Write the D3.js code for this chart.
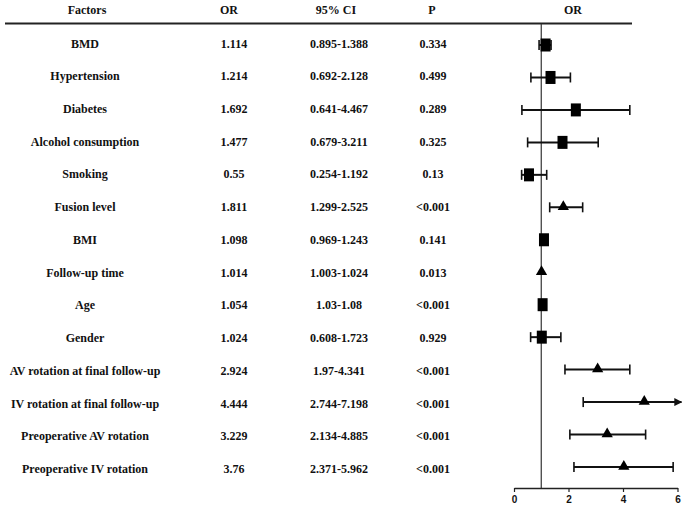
<!DOCTYPE html>
<html>
<head>
<meta charset="utf-8">
<script src="https://cdn.jsdelivr.net/npm/d3@7"></script>
<style>
  body { margin: 0; background: #fff; }
  svg text { font-family: "Liberation Serif", "Times New Roman", serif; font-weight: bold; fill: #111; }
  .tick-label { font-family: "Liberation Sans Narrow", "Liberation Sans", sans-serif; }
</style>
</head>
<body>
<div id="chart"></div>
<script>
// table columns
const factors = [
  "BMD", "Hypertension", "Diabetes", "Alcohol consumption", "Smoking",
  "Fusion level", "BMI", "Follow-up time", "Age", "Gender",
  "AV rotation at final follow-up", "IV rotation at final follow-up",
  "Preoperative AV rotation", "Preoperative IV rotation"
];
const orText = ["1.114", "1.214", "1.692", "1.477", "0.55", "1.811", "1.098",
  "1.014", "1.054", "1.024", "2.924", "4.444", "3.229", "3.76"];
const ciText = ["0.895-1.388", "0.692-2.128", "0.641-4.467", "0.679-3.211",
  "0.254-1.192", "1.299-2.525", "0.969-1.243", "1.003-1.024", "1.03-1.08",
  "0.608-1.723", "1.97-4.341", "2.744-7.198", "2.134-4.885", "2.371-5.962"];
const pText = ["0.334", "0.499", "0.289", "0.325", "0.13", "<0.001", "0.141",
  "0.013", "<0.001", "0.929", "<0.001", "<0.001", "<0.001", "<0.001"];

// what the forest plot actually shows
const plotOR = [1.16, 1.34, 2.27, 1.78, 0.55, 1.81, 1.10, 1.01, 1.05, 1.02, 3.07, 4.78, 3.42, 4.03];
const plotLow = [0.92, 0.62, 0.29, 0.50, 0.28, 1.31, 1.05, 1.0, 1.03, 0.61, 1.87, 2.54, 2.05, 2.20];
const plotHigh = [1.36, 2.07, 4.25, 3.09, 1.20, 2.52, 1.15, 1.02, 1.08, 1.72, 4.25, 7.198, 4.83, 5.84];
const markerShape = ["square", "square", "square", "square", "square", "triangle", "square",
  "triangle", "square", "square", "triangle", "triangle", "triangle", "triangle"];
const showCI = [true, true, true, true, true, true, false, false, false, true, true, true, true, true];

const headers = ["Factors", "OR", "95% CI", "P", "OR"];
const xTicks = [0, 2, 4, 6];

const w = 685, h = 511;

const svg = d3.select("#chart").append("svg")
  .attr("width", w)
  .attr("height", h);

const y = d3.scalePoint().domain(factors).range([45, 467]);
const yText = y.copy().range([47.5, 473]);
const x = d3.scaleLinear().domain([0, 6]).range([514, 677.5]);

const colX = [85, 234, 339, 433];
const headX = [87, 229, 336, 432, 573];

// headers
svg.selectAll(".head")
  .data(headers)
  .enter()
  .append("text")
  .attr("class", "head")
  .attr("x", (d, i) => headX[i])
  .attr("y", 14)
  .attr("text-anchor", "middle")
  .attr("font-size", 12)
  .text((d) => d);

svg.append("line")
  .attr("x1", 5).attr("x2", 632)
  .attr("y1", 23.5).attr("y2", 23.5)
  .attr("stroke", "#222")
  .attr("stroke-width", 2);

// table body
const columns = [factors, orText, ciText, pText];
columns.forEach((col, c) => {
  svg.append("g")
    .selectAll("text")
    .data(col)
    .enter()
    .append("text")
    .attr("x", colX[c])
    .attr("y", (d, i) => yText(factors[i]))
    .attr("text-anchor", "middle")
    .attr("font-size", 12)
    .text((d) => d);
});

// reference line at OR = 1
svg.append("line")
  .attr("x1", x(1)).attr("x2", x(1))
  .attr("y1", 24).attr("y2", 488)
  .attr("stroke", "#333")
  .attr("stroke-width", 1.2);

// x axis
const axis = svg.append("g")
  .attr("transform", "translate(0,488)")
  .call(d3.axisBottom(x).tickValues(xTicks).tickFormat(d3.format("d")).tickSize(4).tickSizeOuter(0));
axis.select(".domain").attr("stroke", "#222").attr("stroke-width", 1.5);
axis.selectAll(".tick line").attr("stroke", "#222").attr("stroke-width", 1.2);
axis.selectAll(".tick text")
  .attr("class", "tick-label")
  .attr("font-size", 10)
  .attr("fill", "#111")
  .attr("y", 8);

// arrow marker for clipped intervals
svg.append("defs").append("marker")
  .attr("id", "arrow")
  .attr("viewBox", "0 0 10 10")
  .attr("refX", 9).attr("refY", 5)
  .attr("markerWidth", 4).attr("markerHeight", 4)
  .attr("orient", "auto")
  .append("path")
  .attr("d", "M0,0L10,5L0,10Z")
  .attr("fill", "#111");

const xMax = x.domain()[1];
const rows = factors.map((f, i) => ({
  f, or: plotOR[i], lo: plotLow[i], hi: plotHigh[i],
  shape: markerShape[i], ci: showCI[i], clipped: plotHigh[i] > xMax
}));

const g = svg.append("g");

const ciRows = rows.filter((d) => d.ci);
g.selectAll(".ci")
  .data(ciRows)
  .enter()
  .append("line")
  .attr("x1", (d) => x(d.lo))
  .attr("x2", (d) => d.clipped ? x(xMax) + 4 : x(d.hi))
  .attr("y1", (d) => y(d.f))
  .attr("y2", (d) => y(d.f))
  .attr("stroke", "#111")
  .attr("stroke-width", 2)
  .attr("marker-end", (d) => d.clipped ? "url(#arrow)" : null);

// caps
g.selectAll(".capL")
  .data(ciRows)
  .enter()
  .append("line")
  .attr("x1", (d) => x(d.lo)).attr("x2", (d) => x(d.lo))
  .attr("y1", (d) => y(d.f) - 5).attr("y2", (d) => y(d.f) + 5)
  .attr("stroke", "#111")
  .attr("stroke-width", 1.6);

g.selectAll(".capR")
  .data(ciRows.filter((d) => !d.clipped))
  .enter()
  .append("line")
  .attr("x1", (d) => x(d.hi)).attr("x2", (d) => x(d.hi))
  .attr("y1", (d) => y(d.f) - 5).attr("y2", (d) => y(d.f) + 5)
  .attr("stroke", "#111")
  .attr("stroke-width", 1.6);

// point markers
g.selectAll(".sq")
  .data(rows.filter((d) => d.shape === "square"))
  .enter()
  .append("rect")
  .attr("x", (d) => x(d.or) - 5)
  .attr("y", (d) => y(d.f) - 6.5)
  .attr("width", 10)
  .attr("height", 13)
  .attr("fill", "#000");

g.selectAll(".tri")
  .data(rows.filter((d) => d.shape === "triangle"))
  .enter()
  .append("path")
  .attr("d", d3.symbol().type(d3.symbolTriangle).size(55))
  .attr("transform", (d) => `translate(${x(d.or)},${y(d.f) - 0.5})`)
  .attr("fill", "#000");
</script>
</body>
</html>
